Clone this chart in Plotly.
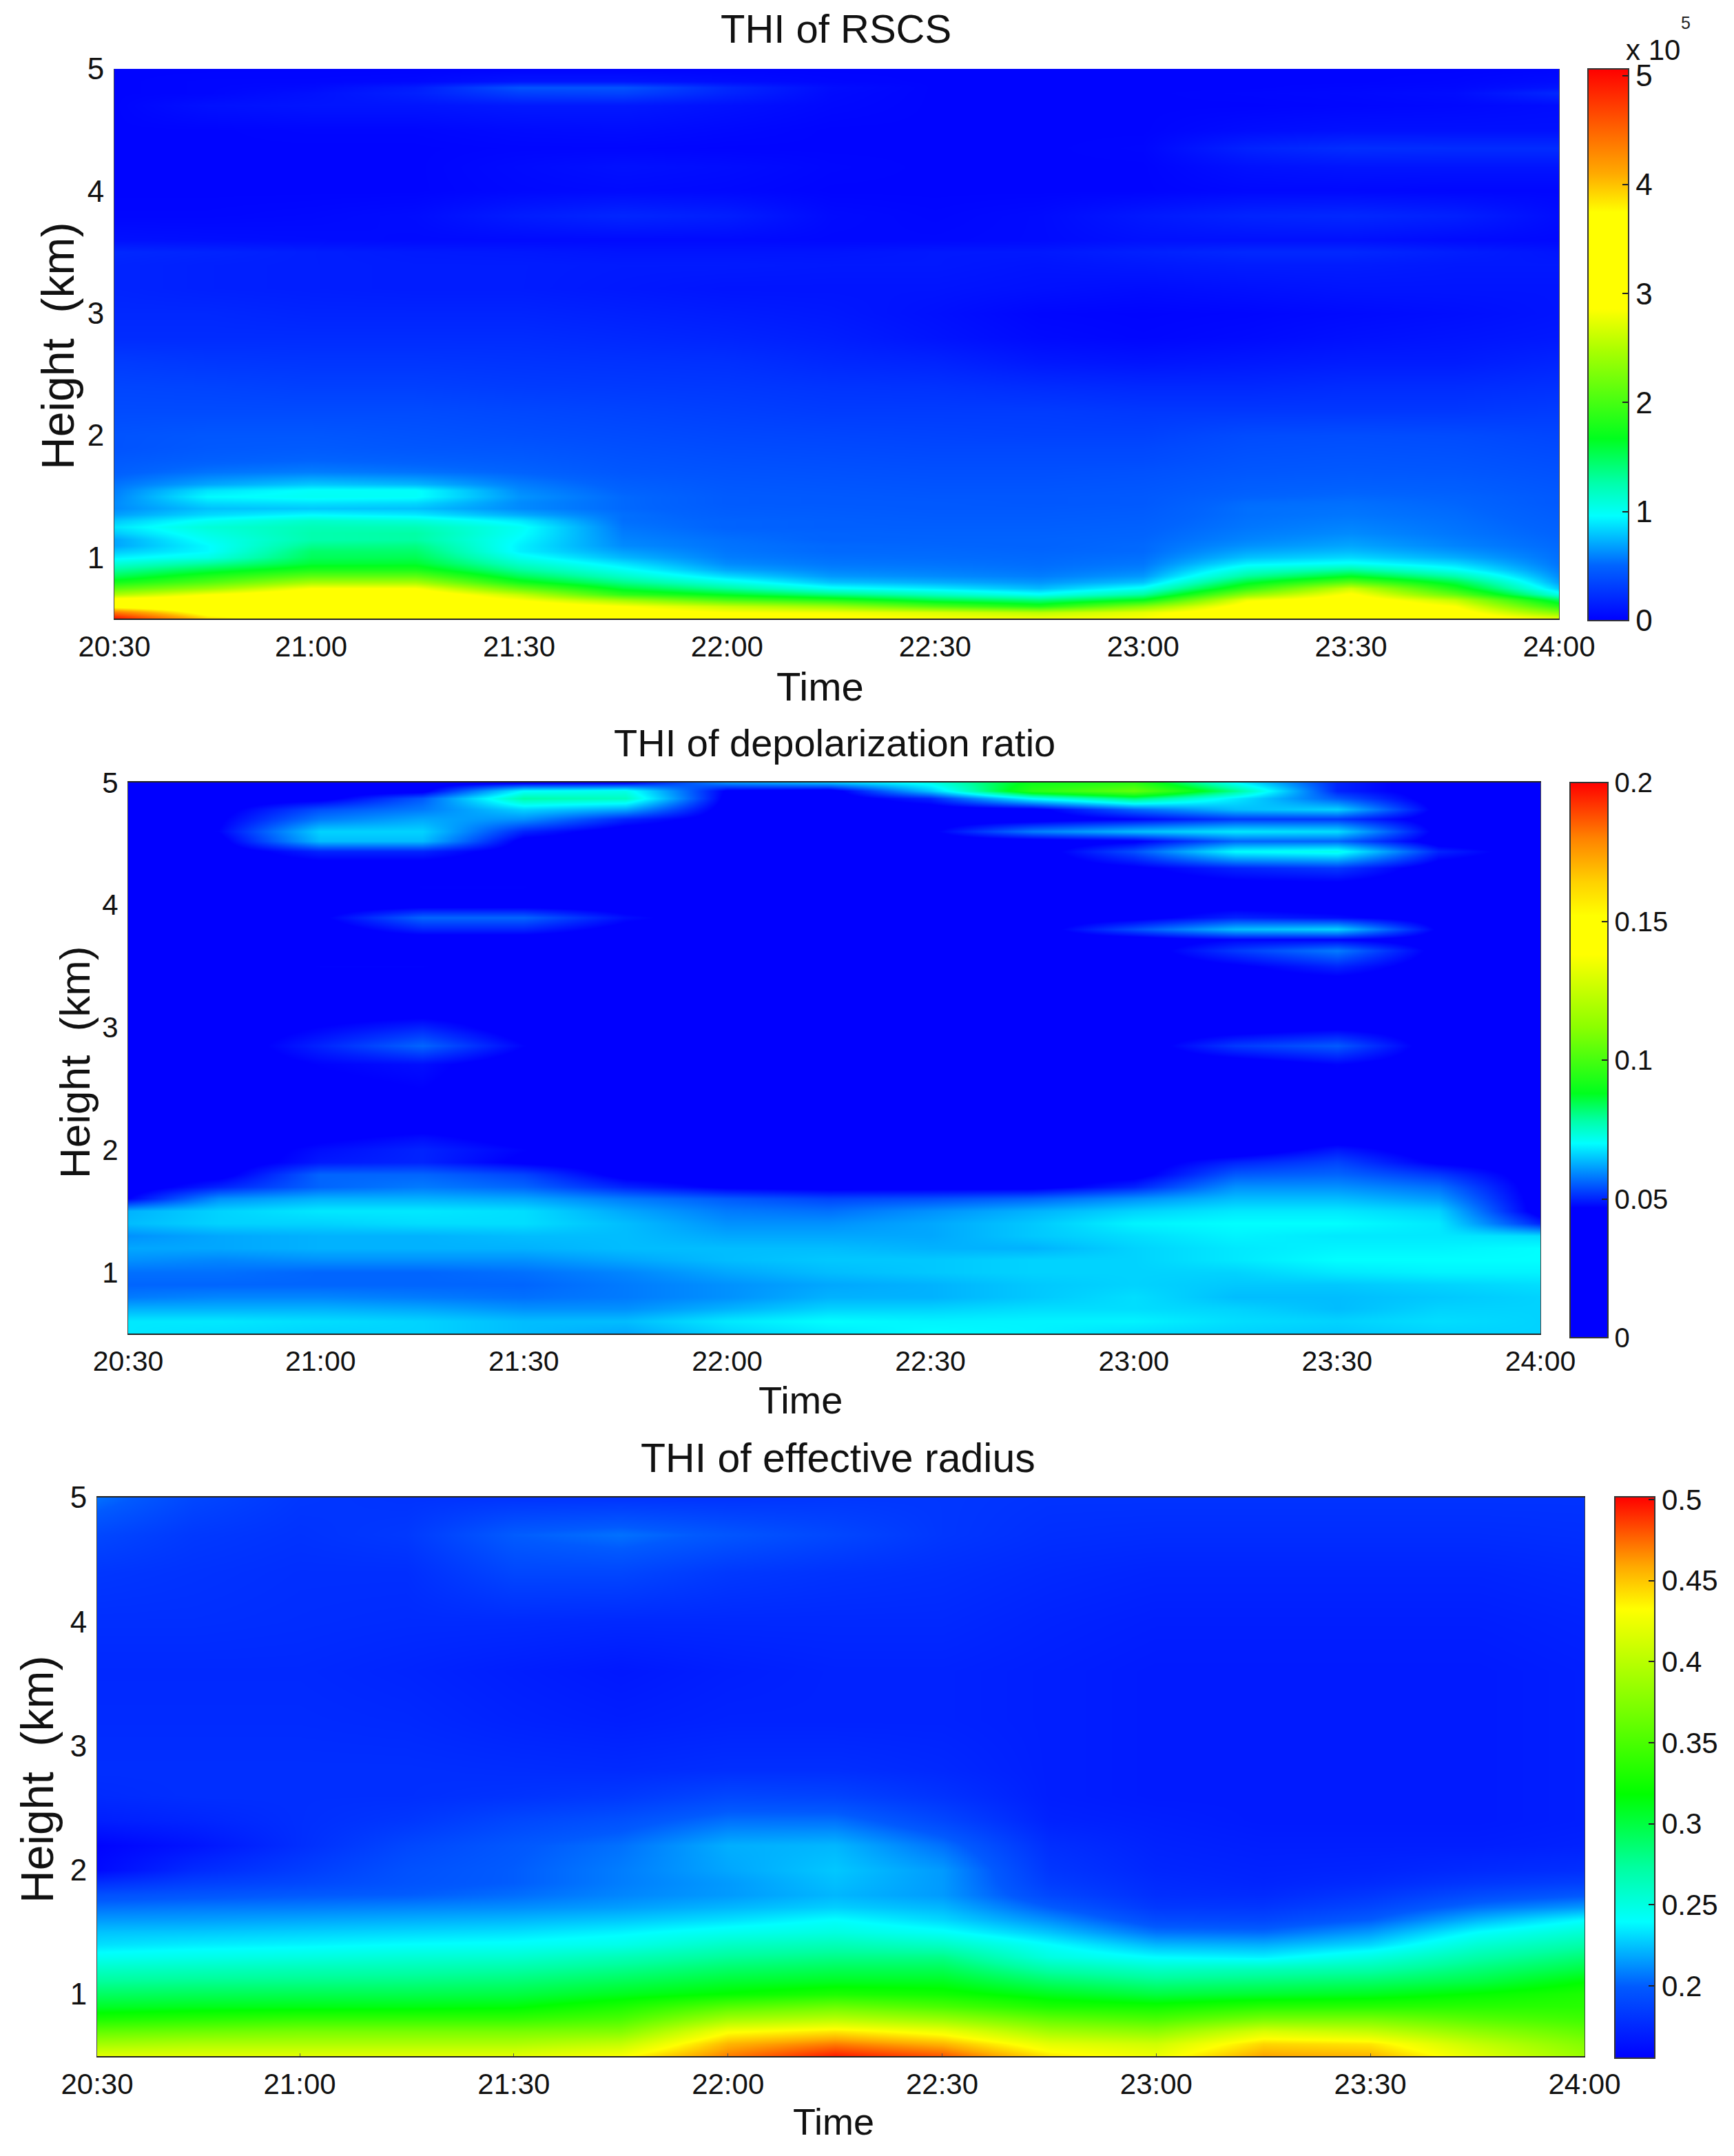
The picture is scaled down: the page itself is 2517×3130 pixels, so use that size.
import numpy as np
import plotly.graph_objects as go

FIG_W, FIG_H = 2517, 3130
FONT = "Liberation Sans"

# Shared time axis: the record starts a little after 20:30.
time_knots = [20.527, 20.75, 21.0, 21.25, 21.5, 21.75, 22.0, 22.25, 22.5, 22.75,
              23.0, 23.25, 23.5, 23.75, 24.0]
time_ticks = [20.527, 21.0, 21.5, 22.0, 22.5, 23.0, 23.5, 24.0]
time_labels = ["20:30", "21:00", "21:30", "22:00", "22:30", "23:00", "23:30", "24:00"]
height_ticks = [1, 2, 3, 4, 5]

# RSCS, in units of 1e5; one profile per time knot.
rscs_heights = [0.5, 0.55, 0.6, 0.65, 0.7, 0.75, 0.8, 0.85, 0.9, 0.95, 1.0, 1.05, 1.1, 1.15,
                1.2, 1.25, 1.3, 1.35, 1.4, 1.45, 1.5, 1.55, 1.6, 1.7, 1.8, 1.9, 2.0,
                2.2, 2.4, 2.6, 2.8, 3.0, 3.2, 3.4, 3.5, 3.6, 3.8, 4.0, 4.2, 4.35, 4.5,
                4.7, 4.8, 4.85, 4.9, 5.0]
rscs_profiles = [
    [5.0, 4.4, 3.6, 3.0, 2.5, 2.1, 1.75, 1.5, 1.3, 1.1, .92, .8, .7, .7, .8, .88, .8, .68, .62, .62, .6, .58, .55,
     .48, .45, .42, .42, .38, .35, .3, .22, .2, .18, .18, .2, .08, .03, .02, .02, .02, .02, .02, .02, .02, .02, .02],
    [3.9, 3.6, 3.4, 3.1, 2.85, 2.4, 2.05, 1.8, 1.55, 1.3, 1.05, .95, .95, 1.0, 1.05, 1.1, 1.0, .85, .78, .85, .95, .88, .7,
     .55, .48, .45, .44, .38, .34, .28, .22, .2, .16, .16, .18, .07, .03, .02, .02, .02, .02, .08, .03, .03, .03, .02],
    [3.5, 3.4, 3.3, 3.2, 3.1, 2.85, 2.45, 2.1, 1.8, 1.6, 1.5, 1.45, 1.35, 1.25, 1.25, 1.22, 1.15, .95, .8, .88, 1.0, .98, .8,
     .58, .5, .46, .44, .38, .32, .27, .22, .18, .15, .15, .15, .06, .04, .02, .02, .02, .03, .1, .08, .05, .03, .02],
    [3.5, 3.4, 3.3, 3.2, 3.1, 2.85, 2.45, 2.1, 1.8, 1.62, 1.52, 1.45, 1.38, 1.28, 1.28, 1.22, 1.1, .9, .78, .85, .98, .98, .75,
     .55, .48, .44, .42, .38, .32, .27, .22, .18, .14, .14, .13, .05, .06, .02, .02, .02, .03, .1, .16, .14, .04, .02],
    [3.4, 3.3, 3.1, 2.85, 2.6, 2.15, 1.75, 1.5, 1.3, 1.15, 1.02, .92, .92, .95, .98, 1.0, .9, .72, .62, .62, .65, .62, .58,
     .5, .46, .43, .4, .36, .3, .26, .22, .18, .14, .14, .12, .05, .14, .04, .05, .03, .05, .12, .32, .42, .1, .02],
    [3.2, 3.0, 2.85, 2.45, 1.9, 1.6, 1.35, 1.15, 1.0, .88, .75, .68, .62, .6, .58, .56, .54, .54, .52, .52, .52, .5, .48,
     .44, .42, .4, .38, .34, .29, .25, .2, .16, .12, .13, .1, .05, .19, .05, .08, .03, .06, .12, .34, .42, .1, .02],
    [3.0, 2.85, 2.6, 2.05, 1.65, 1.3, 1.05, .85, .7, .62, .58, .56, .55, .54, .52, .5, .5, .48, .47, .46, .46, .45, .44,
     .42, .4, .38, .36, .32, .28, .24, .18, .14, .1, .13, .1, .05, .15, .04, .06, .02, .04, .08, .18, .2, .06, .02],
    [2.95, 2.8, 2.4, 1.85, 1.4, 1.0, .78, .66, .6, .56, .54, .52, .52, .5, .5, .48, .48, .47, .46, .45, .45, .44, .43,
     .41, .39, .37, .35, .3, .26, .2, .15, .12, .1, .12, .1, .04, .05, .02, .03, .02, .02, .04, .05, .06, .03, .02],
    [2.85, 2.7, 2.05, 1.55, 1.2, .9, .72, .62, .58, .55, .53, .52, .51, .5, .49, .48, .47, .46, .45, .45, .44, .43, .42,
     .4, .38, .36, .34, .3, .25, .18, .1, .08, .1, .12, .12, .04, .03, .02, .02, .02, .02, .02, .02, .02, .02, .02],
    [2.8, 2.55, 1.8, 1.4, 1.0, .76, .65, .58, .55, .53, .52, .51, .5, .5, .49, .48, .47, .46, .45, .44, .44, .43, .42,
     .4, .38, .36, .33, .3, .22, .12, .05, .03, .08, .1, .12, .05, .05, .02, .02, .02, .02, .02, .02, .02, .02, .02],
    [2.85, 2.75, 2.3, 1.7, 1.3, 1.0, .78, .66, .6, .56, .54, .52, .52, .51, .5, .49, .48, .47, .46, .45, .45, .44, .43,
     .41, .38, .36, .33, .28, .2, .1, .03, .02, .06, .12, .16, .08, .12, .02, .02, .03, .02, .02, .02, .02, .02, .02],
    [3.2, 3.1, 3.0, 2.8, 2.35, 1.9, 1.6, 1.3, 1.1, .92, .78, .7, .64, .6, .58, .56, .55, .54, .54, .53, .5, .48, .47,
     .44, .42, .4, .38, .28, .2, .12, .05, .03, .08, .14, .2, .08, .18, .04, .08, .17, .06, .02, .03, .02, .02, .02],
    [3.3, 3.25, 3.15, 3.05, 2.9, 2.65, 2.1, 1.65, 1.3, 1.0, .85, .76, .7, .66, .62, .6, .58, .56, .55, .54, .52, .5, .48,
     .45, .43, .41, .39, .28, .22, .14, .08, .05, .1, .14, .2, .08, .2, .04, .1, .23, .08, .03, .04, .03, .02, .02],
    [3.1, 3.0, 2.85, 2.6, 2.15, 1.8, 1.55, 1.25, 1.0, .85, .72, .65, .6, .58, .56, .55, .54, .53, .52, .51, .5, .48, .47,
     .44, .42, .4, .38, .28, .22, .14, .1, .07, .1, .12, .15, .05, .16, .03, .1, .22, .08, .04, .06, .04, .03, .02],
    [2.75, 2.3, 1.85, 1.5, 1.05, .8, .68, .62, .58, .55, .54, .53, .52, .51, .5, .49, .48, .47, .46, .45, .45, .44, .43,
     .41, .39, .37, .35, .3, .24, .18, .12, .1, .1, .12, .1, .04, .06, .03, .1, .22, .08, .06, .2, .1, .06, .03],
]

# Depolarization ratio; one profile per time knot.
depol_heights = [0.5, 0.6, 0.7, 0.8, 0.9, 1.0, 1.1, 1.2, 1.3, 1.4, 1.5, 1.6, 1.7, 1.8, 1.9, 2.0, 2.1, 2.2,
                 2.7, 2.85, 3.0, 3.15, 3.35, 3.5, 3.63, 3.72, 3.8, 3.9, 4.0, 4.15, 4.3, 4.44, 4.52, 4.6, 4.7,
                 4.78, 4.87, 4.93, 5.0]
depol_profiles = [
    [.068, .068, .063, .058, .056, .057, .06, .062, .06, .064, .063, .047, .044, .044, .044, .044, .044, .044,
     .044, .044, .044, .044, .044, .044, .044, .044, .044, .044, .044, .044, .044, .044, .044, .044, .044, .044, .044, .044, .044],
    [.067, .068, .063, .059, .056, .057, .059, .062, .062, .066, .066, .06, .05, .045, .044, .044, .044, .044,
     .044, .044, .044, .044, .044, .044, .044, .044, .044, .044, .044, .044, .044, .044, .045, .047, .046, .045, .044, .044, .044],
    [.066, .067, .063, .059, .056, .056, .06, .063, .063, .066, .068, .063, .056, .056, .049, .048, .046, .044,
     .047, .05, .047, .044, .044, .047, .044, .044, .044, .046, .044, .044, .044, .05, .064, .066, .058, .054, .045, .044, .044],
    [.066, .066, .062, .058, .056, .056, .06, .063, .063, .067, .068, .063, .058, .056, .05, .05, .048, .045,
     .048, .056, .05, .044, .044, .047, .044, .044, .05, .056, .045, .047, .044, .05, .064, .066, .062, .058, .055, .045, .044],
    [.064, .064, .06, .057, .056, .057, .06, .063, .064, .067, .067, .062, .056, .053, .046, .047, .045, .044,
     .044, .047, .044, .044, .044, .044, .044, .044, .05, .056, .045, .047, .044, .044, .045, .05, .06, .066, .078, .07, .045],
    [.062, .064, .06, .058, .058, .059, .062, .064, .064, .064, .062, .058, .05, .045, .044, .044, .044, .044,
     .044, .044, .044, .044, .044, .044, .044, .044, .045, .048, .044, .044, .044, .044, .044, .044, .05, .062, .076, .072, .046],
    [.066, .068, .063, .06, .06, .062, .064, .064, .062, .06, .058, .055, .046, .044, .044, .044, .044, .044,
     .044, .044, .044, .044, .044, .044, .044, .044, .044, .044, .044, .044, .044, .044, .044, .044, .044, .044, .045, .046, .06],
    [.068, .07, .066, .063, .062, .064, .065, .064, .062, .06, .057, .053, .045, .044, .044, .044, .044, .044,
     .044, .044, .044, .044, .044, .044, .044, .044, .044, .044, .044, .044, .044, .044, .044, .044, .044, .044, .044, .044, .064],
    [.07, .069, .066, .063, .063, .065, .065, .063, .062, .062, .06, .054, .045, .044, .044, .044, .044, .044,
     .044, .044, .044, .044, .044, .044, .044, .044, .044, .044, .044, .044, .045, .044, .044, .046, .044, .044, .05, .065, .072],
    [.069, .069, .067, .065, .065, .066, .066, .063, .065, .065, .063, .056, .045, .044, .044, .044, .044, .044,
     .044, .044, .044, .044, .044, .044, .044, .044, .044, .044, .044, .044, .044, .044, .044, .058, .044, .045, .07, .095, .09],
    [.067, .069, .067, .067, .066, .066, .066, .066, .067, .069, .066, .06, .05, .045, .044, .044, .044, .044,
     .044, .044, .044, .044, .044, .044, .044, .044, .054, .045, .044, .044, .046, .054, .046, .064, .047, .056, .082, .105, .095],
    [.066, .067, .066, .064, .065, .066, .068, .068, .069, .07, .068, .064, .06, .055, .05, .043, .044, .044,
     .044, .052, .044, .044, .044, .046, .052, .047, .064, .05, .045, .045, .05, .07, .056, .068, .052, .064, .068, .08, .07],
    [.065, .066, .064, .064, .065, .068, .07, .069, .068, .07, .068, .064, .06, .056, .053, .049, .044, .044,
     .047, .055, .046, .044, .044, .05, .058, .047, .066, .048, .044, .045, .052, .072, .056, .067, .052, .066, .055, .05, .05],
    [.066, .067, .066, .065, .066, .069, .07, .069, .068, .068, .066, .061, .057, .052, .046, .044, .044, .044,
     .044, .044, .044, .044, .044, .044, .045, .044, .046, .044, .044, .044, .044, .05, .044, .045, .044, .045, .044, .044, .044],
    [.066, .066, .066, .066, .067, .069, .07, .07, .067, .05, .044, .044, .044, .044, .044, .044, .044, .044,
     .044, .044, .044, .044, .044, .044, .044, .044, .044, .044, .044, .044, .044, .044, .044, .044, .044, .044, .044, .044, .044],
]

# Effective radius; one profile per time knot.
radius_heights = [0.5, 0.6, 0.7, 0.8, 0.9, 1.0, 1.1, 1.2, 1.3, 1.4, 1.5, 1.6, 1.7, 1.8, 1.9, 2.0,
                  2.2, 2.4, 2.6, 2.8, 3.2, 3.6, 4.0, 4.4, 4.7, 5.0]
radius_profiles = [
    [.42, .39, .36, .33, .307, .291, .275, .26, .244, .232, .225, .215, .205, .195, .178, .16, .157, .17, .176, .178, .176, .175, .178, .182, .19, .205],
    [.42, .395, .365, .335, .31, .294, .278, .263, .247, .235, .226, .216, .207, .197, .186, .176, .165, .173, .178, .178, .176, .175, .178, .18, .183, .19],
    [.42, .395, .37, .34, .312, .296, .28, .266, .25, .237, .228, .218, .208, .199, .19, .185, .178, .178, .178, .178, .176, .175, .177, .178, .18, .182],
    [.42, .395, .37, .34, .313, .297, .282, .268, .254, .24, .23, .22, .21, .2, .196, .195, .19, .182, .178, .178, .175, .173, .176, .178, .183, .18],
    [.42, .395, .37, .34, .316, .3, .286, .272, .256, .242, .232, .222, .212, .204, .2, .2, .198, .19, .18, .177, .172, .17, .176, .19, .2, .18],
    [.43, .405, .375, .35, .33, .31, .295, .28, .265, .247, .237, .226, .216, .21, .208, .208, .205, .195, .183, .176, .17, .167, .175, .19, .205, .18],
    [.47, .455, .43, .39, .355, .32, .305, .29, .275, .26, .245, .232, .222, .215, .215, .218, .22, .205, .19, .178, .172, .17, .175, .183, .197, .18],
    [.495, .47, .44, .4, .365, .33, .31, .295, .28, .265, .25, .24, .228, .222, .224, .226, .222, .205, .188, .178, .172, .172, .175, .18, .19, .182],
    [.48, .455, .425, .385, .35, .325, .31, .295, .28, .26, .242, .23, .222, .215, .215, .215, .205, .19, .18, .175, .172, .172, .175, .178, .182, .182],
    [.44, .42, .39, .36, .33, .31, .29, .27, .25, .24, .225, .212, .2, .19, .185, .182, .178, .172, .17, .17, .17, .17, .172, .175, .178, .18],
    [.425, .41, .38, .35, .325, .3, .28, .26, .239, .222, .205, .192, .183, .178, .176, .174, .172, .17, .168, .168, .168, .168, .17, .173, .177, .18],
    [.46, .445, .415, .37, .335, .305, .285, .265, .236, .22, .203, .19, .182, .176, .173, .172, .17, .168, .168, .168, .168, .168, .17, .173, .177, .18],
    [.455, .44, .405, .37, .335, .31, .29, .27, .25, .23, .215, .2, .19, .182, .176, .173, .17, .168, .168, .168, .168, .168, .17, .173, .177, .18],
    [.42, .405, .38, .355, .335, .32, .3, .285, .27, .255, .24, .222, .205, .192, .182, .176, .17, .168, .168, .168, .168, .168, .17, .173, .177, .18],
    [.385, .375, .36, .345, .335, .33, .318, .3, .285, .27, .255, .239, .215, .198, .186, .178, .172, .17, .17, .17, .17, .17, .172, .175, .178, .18],
]

# Each panel has its own stretched jet-like palette.
rscs_colors = [[0, "rgb(0,0,255)"], [.1, "rgb(0,100,255)"], [.19, "rgb(0,255,255)"], [.25, "rgb(0,255,170)"],
               [.33, "rgb(0,255,30)"], [.49, "rgb(170,255,0)"], [.565, "rgb(255,255,0)"], [.74, "rgb(255,255,0)"],
               [.81, "rgb(255,170,0)"], [.9, "rgb(255,90,0)"], [1, "rgb(255,0,0)"]]
depol_colors = [[0, "rgb(0,0,255)"], [.234, "rgb(0,0,255)"], [.266, "rgb(0,70,255)"], [.35, "rgb(0,255,255)"],
                [.39, "rgb(0,255,170)"], [.44, "rgb(0,255,30)"], [.56, "rgb(140,255,0)"], [.69, "rgb(255,255,0)"],
                [.76, "rgb(255,255,0)"], [.82, "rgb(255,210,0)"], [.9, "rgb(255,130,0)"], [1, "rgb(255,0,0)"]]
radius_colors = [[0, "rgb(0,0,255)"], [.127, "rgb(0,90,255)"], [.243, "rgb(0,255,255)"], [.34, "rgb(0,255,160)"],
                 [.47, "rgb(0,255,0)"], [.62, "rgb(120,255,0)"], [.8, "rgb(255,255,0)"], [.875, "rgb(255,170,0)"],
                 [1, "rgb(255,0,0)"]]

# Panel geometry in page pixels, keyed by what each panel draws.
panels = [
    dict(title="THI of RSCS", heights=rscs_heights, profiles=rscs_profiles, colors=rscs_colors,
         zmin=0, zmax=5.06, cticks=[0, 1, 2, 3, 4, 5], clabels=["0", "1", "2", "3", "4", "5"],
         box=(166, 2263, 100, 898), cbar=(2305, 2364, 100, 901),
         title_xy=(1213, 42), title_size=58, time_xy=(1190, 996), time_size=58,
         ylab_xy=(84, 503), ylab_size=66, tick_size=42, ytick_size=44, cbar_size=44),
    dict(title="THI of depolarization ratio", heights=depol_heights, profiles=depol_profiles, colors=depol_colors,
         zmin=0, zmax=0.2, cticks=[0, .05, .1, .15, .2], clabels=["0", "0.05", "0.1", "0.15", "0.2"],
         box=(186, 2236, 1136, 1936), cbar=(2279, 2334, 1136, 1942),
         title_xy=(1211, 1079), title_size=56, time_xy=(1162, 2032), time_size=56,
         ylab_xy=(108, 1542), ylab_size=62, tick_size=41, ytick_size=42, cbar_size=40),
    dict(title="THI of effective radius", heights=radius_heights, profiles=radius_profiles, colors=radius_colors,
         zmin=0.1554, zmax=0.5017, cticks=[.2, .25, .3, .35, .4, .45, .5],
         clabels=["0.2", "0.25", "0.3", "0.35", "0.4", "0.45", "0.5"],
         box=(141, 2300, 2174, 2985), cbar=(2344, 2402, 2173, 2988),
         title_xy=(1216, 2117), title_size=59, time_xy=(1210, 3080), time_size=54,
         ylab_xy=(54, 2584), ylab_size=66, tick_size=42, ytick_size=44, cbar_size=42),
]


def px(x):
    return x / FIG_W


def py(y):
    return 1 - y / FIG_H


fig = go.Figure()
layout = dict(width=FIG_W, height=FIG_H, autosize=False,
              margin=dict(l=0, r=0, t=0, b=0, pad=0, autoexpand=False),
              paper_bgcolor="white", plot_bgcolor="white", showlegend=False,
              font=dict(family=FONT, color="#111"))
annotations, shapes = [], []

for i, p in enumerate(panels, start=1):
    left, right, top, bottom = p["box"]
    c_left, c_right, c_top, c_bottom = p["cbar"]
    xname, yname = ("x", "y") if i == 1 else (f"x{i}", f"y{i}")
    fig.add_trace(go.Heatmap(
        x=time_knots, y=p["heights"], z=np.array(p["profiles"]).T.tolist(),
        xaxis=xname, yaxis=yname, zsmooth="best", colorscale=p["colors"],
        zmin=p["zmin"], zmax=p["zmax"],
        colorbar=dict(
            x=px(c_left), xanchor="left", y=py(c_bottom), yanchor="bottom",
            len=(c_bottom - c_top) / FIG_H, lenmode="fraction",
            thickness=c_right - c_left, thicknessmode="pixels", xpad=0, ypad=0,
            outlinecolor="#333", outlinewidth=2, ticks="inside", ticklen=10, tickwidth=2, tickcolor="#222",
            tickmode="array", tickvals=p["cticks"], ticktext=p["clabels"],
            tickfont=dict(family=FONT, size=p["cbar_size"], color="#111"),
        ),
    ))
    framed = i > 1
    layout[f"xaxis{'' if i == 1 else i}"] = dict(
        domain=[px(left), px(right)], anchor=yname, range=[time_ticks[0], time_ticks[-1]],
        tickmode="array", tickvals=time_ticks, ticktext=time_labels,
        tickfont=dict(family=FONT, size=p["tick_size"], color="#111"),
        ticks="inside" if i == 3 else "", ticklen=4, tickwidth=1, tickcolor="#555",
        ticklabelstandoff=3, showgrid=False, zeroline=False,
        showline=True, linecolor="#222", linewidth=2, mirror=framed,
    )
    layout[f"yaxis{'' if i == 1 else i}"] = dict(
        domain=[py(bottom), py(top)], anchor=xname, range=[0.5, 5],
        tickmode="array", tickvals=height_ticks, ticktext=[str(h) for h in height_ticks],
        tickfont=dict(family=FONT, size=p["ytick_size"], color="#111"),
        ticks="", ticklabelstandoff=5, showgrid=False, zeroline=False,
        showline=True, linecolor="#444", linewidth=1, mirror=True,
    )
    annotations.append(dict(text=p["title"], x=px(p["title_xy"][0]), y=py(p["title_xy"][1]),
                            xref="paper", yref="paper", xanchor="center", yanchor="middle", showarrow=False,
                            font=dict(family=FONT, size=p["title_size"], color="#111")))
    annotations.append(dict(text="Time", x=px(p["time_xy"][0]), y=py(p["time_xy"][1]),
                            xref="paper", yref="paper", xanchor="center", yanchor="middle", showarrow=False,
                            font=dict(family=FONT, size=p["time_size"], color="#111")))
    annotations.append(dict(text="Height  (km)", x=px(p["ylab_xy"][0]), y=py(p["ylab_xy"][1]), textangle=-90,
                            xref="paper", yref="paper", xanchor="center", yanchor="middle", showarrow=False,
                            font=dict(family=FONT, size=p["ylab_size"], color="#111")))
    # The colour bars also carry inward ticks on their left edge.
    for value in p["cticks"]:
        if value <= p["zmin"] or value >= p["zmax"]:
            continue
        frac = (value - p["zmin"]) / (p["zmax"] - p["zmin"])
        tick_y = c_bottom - frac * (c_bottom - c_top)
        shapes.append(dict(type="line", xref="paper", yref="paper",
                           x0=px(c_left), x1=px(c_left + 10), y0=py(tick_y), y1=py(tick_y),
                           line=dict(color="#222", width=2)))

# Exponent of the RSCS colour bar.
annotations.append(dict(text="x 10", x=px(2399), y=py(72), xref="paper", yref="paper", showarrow=False,
                        xanchor="center", yanchor="middle", font=dict(family=FONT, size=42, color="#111")))
annotations.append(dict(text="5", x=px(2447), y=py(33), xref="paper", yref="paper", showarrow=False,
                        xanchor="center", yanchor="middle", font=dict(family=FONT, size=25, color="#222")))

layout["annotations"] = annotations
layout["shapes"] = shapes
fig.update_layout(**layout)
fig.write_html("out.html", config=dict(displayModeBar=False))
